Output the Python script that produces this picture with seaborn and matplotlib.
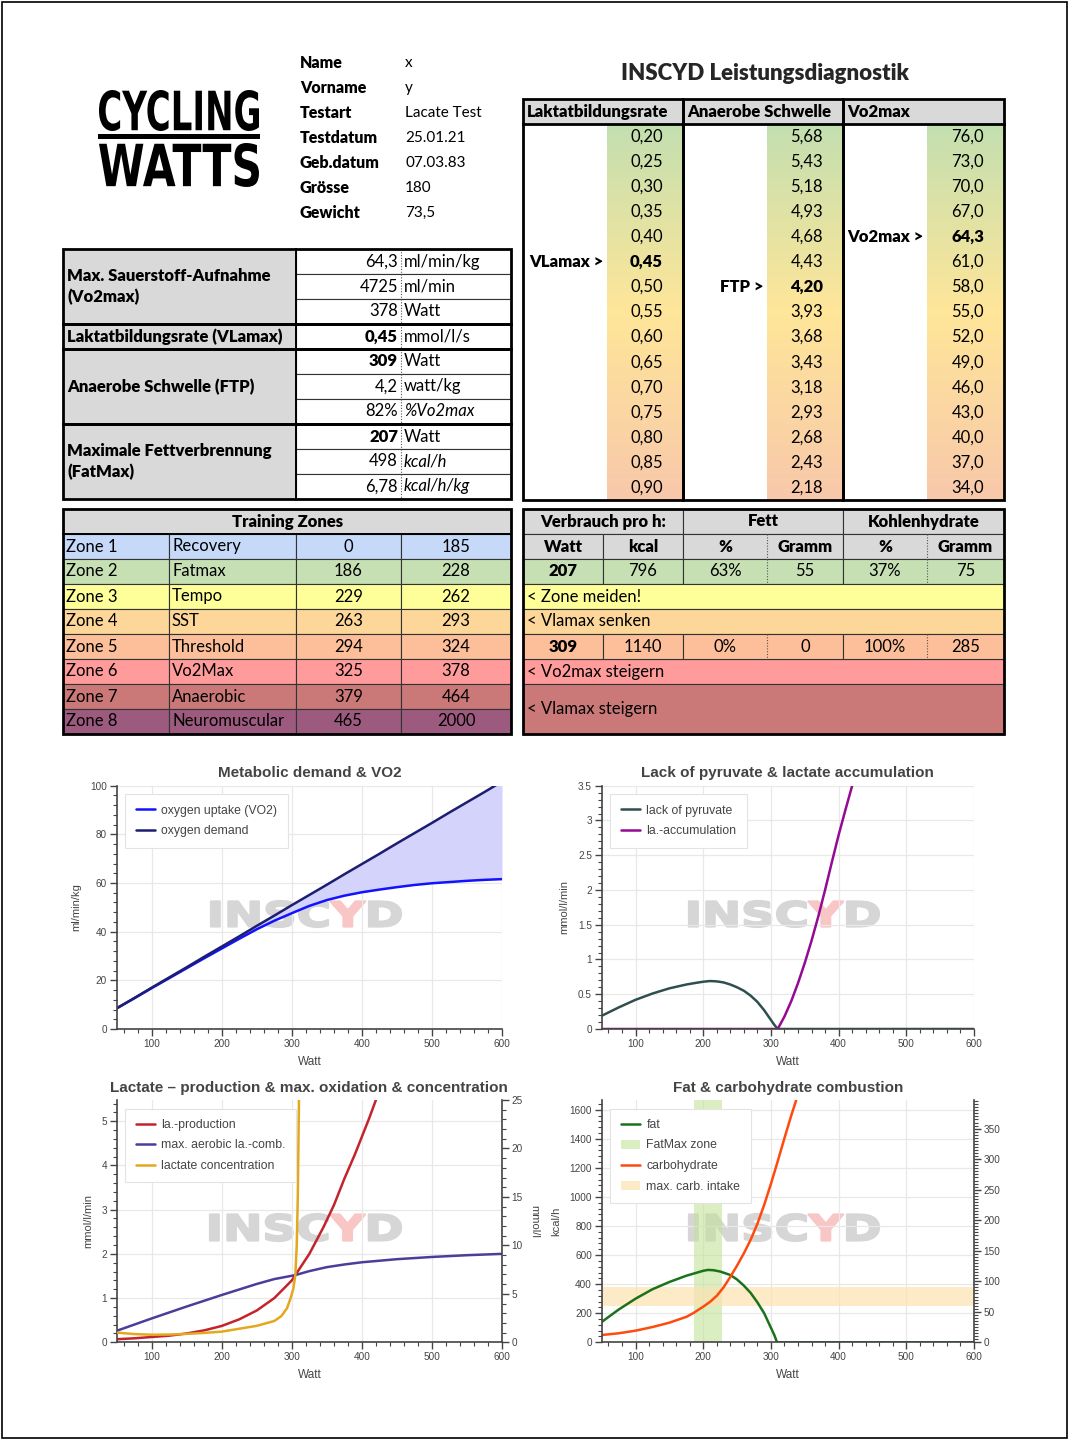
import numpy as np
import pandas as pd
import seaborn as sns
import matplotlib.pyplot as plt
from matplotlib.patches import Rectangle, PathPatch, Patch
from matplotlib.lines import Line2D
from matplotlib.textpath import TextPath, text_to_path
from matplotlib.font_manager import FontProperties
from matplotlib.transforms import Affine2D
from matplotlib.colors import LinearSegmentedColormap
from matplotlib.ticker import MultipleLocator, FuncFormatter

# ================= DATA =================
info_labels = ["Name", "Vorname", "Testart", "Testdatum", "Geb.datum", "Grösse", "Gewicht"]
info_values = ["x", "y", "Lacate Test", "25.01.21", "07.03.83", "180", "73,5"]

scale_headers = ["Laktatbildungsrate", "Anaerobe Schwelle", "Vo2max"]
vlamax_scale = [0.20, 0.25, 0.30, 0.35, 0.40, 0.45, 0.50, 0.55, 0.60, 0.65, 0.70, 0.75, 0.80, 0.85, 0.90]
ftp_scale = [5.68, 5.43, 5.18, 4.93, 4.68, 4.43, 4.20, 3.93, 3.68, 3.43, 3.18, 2.93, 2.68, 2.43, 2.18]
vo2_scale = [76.0, 73.0, 70.0, 67.0, 64.3, 61.0, 58.0, 55.0, 52.0, 49.0, 46.0, 43.0, 40.0, 37.0, 34.0]
scale_pointers = ["VLamax >", "FTP >", "Vo2max >"]
scale_marked = [5, 6, 4]

summary_groups = [("Max. Sauerstoff-Aufnahme\n(Vo2max)", 3), ("Laktatbildungsrate (VLamax)", 1),
                  ("Anaerobe Schwelle (FTP)", 3), ("Maximale Fettverbrennung\n(FatMax)", 3)]
summary_values = ["64,3", "4725", "378", "0,45", "309", "4,2", "82%", "207", "498", "6,78"]
summary_units = ["ml/min/kg", "ml/min", "Watt", "mmol/l/s", "Watt", "watt/kg", "%Vo2max", "Watt", "kcal/h", "kcal/h/kg"]
summary_bold = [False, False, False, True, True, False, False, True, False, False]
summary_italic = [False, False, False, False, False, False, True, False, True, True]

zone_names = ["Zone 1", "Zone 2", "Zone 3", "Zone 4", "Zone 5", "Zone 6", "Zone 7", "Zone 8"]
zone_types = ["Recovery", "Fatmax", "Tempo", "SST", "Threshold", "Vo2Max", "Anaerobic", "Neuromuscular"]
zone_low = [0, 186, 229, 263, 294, 325, 379, 465]
zone_high = [185, 228, 262, 293, 324, 378, 464, 2000]

cons_head = ["Verbrauch pro h:", "Fett", "Kohlenhydrate"]
cons_sub = ["Watt", "kcal", "%", "Gramm", "%", "Gramm"]
cons_fatmax = ["207", "796", "63%", "55", "37%", "75"]
cons_ftp = ["309", "1140", "0%", "0", "100%", "285"]
cons_notes = ["< Zone meiden!", "< Vlamax senken", "< Vo2max steigern", "< Vlamax steigern"]

# chart 1: metabolic demand & VO2
vo2_watt = [50, 75, 100, 125, 150, 175, 200, 225, 250, 275, 300, 325, 350, 375, 400,
            425, 450, 475, 500, 525, 550, 575, 600]
vo2_uptake = [8.5, 12.6, 16.8, 20.9, 25.0, 29.1, 33.1, 37.1, 41.0, 44.5, 47.6, 50.6, 53.0, 54.8, 56.2,
              57.3, 58.3, 59.2, 59.9, 60.4, 60.9, 61.3, 61.6]
vo2_demand = [8.5, 12.7, 17.0, 21.2, 25.4, 29.7, 33.9, 38.1, 42.4, 46.6, 50.9, 55.1, 59.3, 63.6, 67.8,
              72.0, 76.3, 80.5, 84.7, 89.0, 93.2, 97.4, 101.7]

# chart 2: lack of pyruvate & lactate accumulation
pyr_watt = [50, 75, 100, 125, 150, 175, 190, 200, 210, 220, 230, 240, 250, 260, 270, 280, 290, 300,
            305, 310, 400, 500, 600]
pyr_lack = [0.19, 0.31, 0.42, 0.51, 0.585, 0.64, 0.665, 0.68, 0.69, 0.685, 0.67, 0.64, 0.60, 0.55,
            0.48, 0.39, 0.27, 0.13, 0.06, 0.0, 0.0, 0.0, 0.0]
acc_watt = [50, 310, 320, 330, 340, 350, 360, 370, 380, 390, 400, 410, 420, 430]
acc_val = [0.0, 0.0, 0.18, 0.40, 0.66, 0.95, 1.27, 1.62, 2.00, 2.40, 2.79, 3.15, 3.50, 3.87]

# chart 3: lactate production, oxidation, concentration
prod_watt = [50, 75, 100, 125, 150, 175, 200, 225, 250, 275, 300, 305, 325, 345, 360, 375, 390, 400, 410, 420, 430]
prod_val = [0.07, 0.09, 0.12, 0.15, 0.20, 0.27, 0.37, 0.52, 0.72, 1.00, 1.40, 1.52, 2.00, 2.60, 3.10,
            3.70, 4.25, 4.65, 5.05, 5.48, 5.90]
comb_watt = [50, 100, 150, 200, 250, 275, 305, 325, 350, 375, 400, 450, 500, 550, 600]
comb_val = [0.26, 0.54, 0.81, 1.07, 1.32, 1.43, 1.52, 1.61, 1.70, 1.76, 1.81, 1.88, 1.93, 1.97, 2.00]
conc_watt = [50, 75, 100, 125, 150, 175, 200, 225, 250, 275, 285, 293, 298, 302, 305, 307, 308.5, 309.5, 310.5]
conc_val = [1.0, 0.85, 0.78, 0.80, 0.87, 0.97, 1.10, 1.40, 1.70, 2.20, 2.70, 3.50, 4.50, 5.50, 6.90,
            10.0, 15.0, 21.0, 27.0]

# chart 4: fat & carbohydrate combustion (kcal/h)
fat_watt = [50, 75, 100, 125, 150, 175, 200, 207, 215, 225, 240, 250, 260, 270, 280, 290, 300, 305, 309,
            400, 500, 600]
fat_kcal = [140, 225, 300, 365, 415, 458, 492, 498, 496, 487, 463, 432, 390, 340, 275, 200, 100, 50, 0,
            0, 0, 0]
carb_watt = [50, 75, 100, 125, 150, 175, 185, 200, 210, 220, 230, 240, 250, 260, 270, 280, 290, 300,
             310, 320, 330, 340, 350]
carb_kcal = [50, 62, 80, 105, 135, 175, 200, 245, 278, 320, 378, 450, 528, 612, 705, 815, 945, 1090,
             1245, 1405, 1560, 1705, 1850]
carb_intake_g = [60, 90]
kcal_per_g = 4.2

# ================= STYLE =================
sns.set_theme(style="white")
plt.rcParams["font.family"] = ["Liberation Sans", "DejaVu Sans"]
TFONT = ["Lato", "DejaVu Sans"]
BOLD = "heavy"
GRAY = "#d9d9d9"
zone_colors = ["#c6d9f9", "#c6e0b4", "#ffff99", "#fdd69a", "#fcbf9a", "#ff9b9b", "#cb7878", "#9c5b7e"]
CHART_TXT = "#444444"

fig = plt.figure(figsize=(10.7, 14.41), dpi=100)
ax0 = fig.add_axes([0, 0, 1, 1])
ax0.axis("off")


def put(x, y, s, ha="left", bold=False, italic=False, size=12, **kw):
    ax0.text(x, y, s, ha=ha, va="center", fontsize=size, family=TFONT,
             fontweight=BOLD if bold else "normal",
             fontstyle="italic" if italic else "normal", color="black", **kw)


def rect(x0, y0, x1, y1, fc="none", ec="#333333", lw=0.8, z=2):
    ax0.add_patch(Rectangle((x0, y0), x1 - x0, y1 - y0, fc=fc, ec=ec, lw=lw, zorder=z))


def line(xs, ys, lw=0.8, ls="-", color="#333333", z=4):
    ax0.plot(xs, ys, color=color, lw=lw, ls=ls, zorder=z, solid_capstyle="projecting")


def word_path(s, x0, y0, x1, y1, pieces, family="DejaVu Sans", stroke=0.0):
    # text fitted into a pixel box, pieces = [(text, color)]
    prop = FontProperties(family=family, weight="bold", size=10)
    paths, adv = [], 0.0
    for t, c in pieces:
        paths.append((TextPath((adv, 0), t, prop=prop), c))
        adv += text_to_path.get_text_width_height_descent(t, prop, ismath=False)[0]
    full = TextPath((0, 0), s, prop=prop).get_extents()
    ex0 = min(p.get_extents().x0 for p, _ in paths)
    ex1 = max(p.get_extents().x1 for p, _ in paths)
    sx = (x1 - x0) / (ex1 - ex0)
    sy = (y1 - y0) / full.height
    tr = Affine2D().translate(-ex0, -full.y0).scale(sx, -sy).translate(x0, y1)
    for p, c in paths:
        ax0.add_patch(PathPatch(tr.transform_path(p), fc=c, ec=c if stroke else "none",
                                lw=stroke, joinstyle="round", zorder=1))


# ---- page frame + logo ----
rect(2, 2, 1067, 1438, ec="black", lw=1.2)
word_path("CYCLING", 99, 90, 259, 131, [("CYCLING", "black")])
rect(98, 134, 260, 139, fc="black", ec="none")
word_path("WATTS", 99, 143, 259, 187, [("WATTS", "black")])

# ---- person info ----
for i, (lab, val) in enumerate(zip(info_labels, info_values)):
    put(300, 63 + 25 * i, lab, bold=True, size=11.5)
    put(405, 63 + 25 * i, val, size=11)

ax0.text(765, 73, "INSCYD Leistungsdiagnostik", ha="center", va="center", fontsize=16,
         fontweight=BOLD, family=TFONT)

# ---- scale table (top right) ----
col_x = [523, 683, 843, 1004]
grad_x = [607, 767, 927]
row_h = (500 - 124) / 15
grad = LinearSegmentedColormap.from_list("scale", ["#c3dfb0", "#ffe699", "#f8c8ab"])
scales = [[f"{v:.2f}".replace(".", ",") for v in vlamax_scale],
          [f"{v:.2f}".replace(".", ",") for v in ftp_scale],
          [f"{v:.1f}".replace(".", ",") for v in vo2_scale]]
for c in range(3):
    rect(col_x[c], 99, col_x[c + 1], 124, fc=GRAY, ec="black", lw=0)
    ax0.imshow(np.linspace(0, 1, 256)[:, None], cmap=grad, aspect="auto", interpolation="bilinear",
               extent=(grad_x[c], col_x[c + 1], 500, 124), zorder=1)
    put(col_x[c] + 4, 112, scale_headers[c], bold=True)
    for i, s in enumerate(scales[c]):
        yc = 124 + row_h * (i + 0.5)
        put(col_x[c + 1] - 20, yc, s, ha="right", bold=(i == scale_marked[c]))
    yc = 124 + row_h * (scale_marked[c] + 0.5)
    put(grad_x[c] - 4, yc, scale_pointers[c], ha="right", bold=True)
    rect(col_x[c], 99, col_x[c + 1], 500, ec="black", lw=2.0, z=5)
    line([col_x[c], col_x[c + 1]], [124, 124], lw=2.0, color="black")

# ---- summary table (left) ----
r = 0
for label, n in summary_groups:
    y0, y1 = 249 + 25 * r, 249 + 25 * (r + n)
    rect(63, y0, 296, y1, fc=GRAY, ec="none")
    put(67, (y0 + y1) / 2, label, bold=True, linespacing=1.3)
    for k in range(n):
        i = r + k
        yy = 249 + 25 * i
        rect(296, yy, 511, yy + 25, fc="white", ec="#333333", lw=0.8)
        put(398, yy + 12.5, summary_values[i], ha="right", bold=summary_bold[i])
        put(404, yy + 12.5, summary_units[i], italic=summary_italic[i])
    line([401, 401], [y0, y1], lw=0.8, ls=(0, (1, 1.5)), color="#555555", z=5)
    line([296, 296], [y0, y1], lw=1.4, color="black", z=5)
    rect(63, y0, 511, y1, ec="black", lw=2.0, z=6)
    r += n

# ---- training zones ----
tz_x = [63, 169, 296, 401, 511]
rect(63, 509, 511, 534, fc=GRAY, ec="#333333")
put(288, 521.5, "Training Zones", ha="center", bold=True)
for i in range(8):
    y0 = 534 + 25 * i
    for j in range(4):
        rect(tz_x[j], y0, tz_x[j + 1], y0 + 25, fc=zone_colors[i], ec="#333333", lw=0.8)
    put(66, y0 + 12.5, zone_names[i])
    put(172, y0 + 12.5, zone_types[i])
    put(348.5, y0 + 12.5, str(zone_low[i]), ha="center")
    put(456, y0 + 12.5, str(zone_high[i]), ha="center")
line([63, 511], [534, 534], lw=1.4, color="black")
rect(63, 509, 511, 734, ec="black", lw=2.0, z=6)

# ---- consumption table ----
cx = [523, 603, 683, 767, 843, 927, 1004]
for k, (a, b) in enumerate([(523, 683), (683, 843), (843, 1004)]):
    rect(a, 509, b, 534, fc=GRAY)
    put((a + b) / 2, 521.5, cons_head[k], ha="center", bold=True)


def value_row(y0, vals, fc, head=False):
    for a, b in [(523, 603), (603, 683), (683, 843), (843, 1004)]:
        rect(a, y0, b, y0 + 25, fc=fc)
    for j in range(6):
        put((cx[j] + cx[j + 1]) / 2, y0 + 12.5, vals[j], ha="center", bold=head or j == 0)
    for xd in (767, 927):
        line([xd, xd], [y0, y0 + 25], lw=0.8, ls=(0, (1, 1.5)), color="#555555", z=5)


value_row(534, cons_sub, GRAY, head=True)
value_row(559, cons_fatmax, zone_colors[1])
note_rows = [(584, 609, zone_colors[2]), (609, 634, zone_colors[3]), (659, 684, zone_colors[5]),
             (684, 734, zone_colors[6])]
for (a, b, fc), note in zip(note_rows, cons_notes):
    rect(523, a, 1004, b, fc=fc)
    put(527, (a + b) / 2, note)
value_row(634, cons_ftp, zone_colors[4])
rect(523, 509, 1004, 734, ec="black", lw=2.0, z=6)

# ---- watermarks behind charts ----
for (a, b, c, d) in [(211, 901, 401, 927), (689, 901, 879, 927), (210, 1214, 401, 1241), (689, 1214, 879, 1241)]:
    word_path("INSCYD", a, b, c, d, [("INSC", "#d6d6d6"), ("Y", "#f9c6c6"), ("D", "#d6d6d6")], stroke=1.6)

ax0.set_xlim(0, 1070)
ax0.set_ylim(1441, 0)

# ================= CHARTS =================
fmt = FuncFormatter(lambda v, p: f"{v:g}")
leg_kw = dict(loc="upper left", fontsize=8.8, frameon=True, fancybox=False, edgecolor="#e3e3e3",
              framealpha=1, borderpad=0.85, labelspacing=0.7, handlelength=1.6, handletextpad=0.5,
              borderaxespad=0.7, labelcolor=CHART_TXT)


def chart(rect_px, title, ylabel, ymax, ymaj, ymin_step):
    x0, y0, x1, y1 = rect_px
    ax = fig.add_axes([x0 / 1070, 1 - y1 / 1441, (x1 - x0) / 1070, (y1 - y0) / 1441])
    ax.set_facecolor("none")
    ax.set_xlim(50, 600)
    ax.set_ylim(0, ymax)
    ax.xaxis.set_major_locator(MultipleLocator(100))
    ax.xaxis.set_minor_locator(MultipleLocator(20))
    ax.yaxis.set_major_locator(MultipleLocator(ymaj))
    ax.yaxis.set_minor_locator(MultipleLocator(ymin_step))
    ax.yaxis.set_major_formatter(fmt)
    ax.grid(True, which="major", color="#e8e8e8", lw=0.9)
    ax.set_axisbelow(True)
    ax.tick_params(which="both", bottom=True, left=True, top=False, right=False, direction="out",
                   color=CHART_TXT)
    ax.tick_params(which="major", length=5, width=1, labelsize=7.2, labelcolor=CHART_TXT, pad=2)
    ax.tick_params(which="minor", length=3, width=0.8)
    for s in ("top", "right"):
        ax.spines[s].set_visible(False)
    for s in ("left", "bottom"):
        ax.spines[s].set_color(CHART_TXT)
        ax.spines[s].set_linewidth(1.2)
    ax.set_title(title, fontsize=11, fontweight="bold", color=CHART_TXT, pad=6)
    ax.set_xlabel("Watt", fontsize=8.5, color=CHART_TXT, labelpad=5)
    ax.set_ylabel(ylabel, fontsize=8, color=CHART_TXT, labelpad=6)
    return ax


def right_axis(ax, ymax, ymaj, ymin_step, ylabel=""):
    axr = ax.twinx()
    axr.set_ylim(0, ymax)
    axr.yaxis.set_major_locator(MultipleLocator(ymaj))
    axr.yaxis.set_minor_locator(MultipleLocator(ymin_step))
    axr.yaxis.set_major_formatter(fmt)
    axr.grid(False)
    axr.tick_params(axis="y", which="both", right=True, left=False, direction="out", color=CHART_TXT)
    axr.tick_params(axis="y", which="major", length=5, width=1, labelsize=7.2, labelcolor=CHART_TXT, pad=2)
    axr.tick_params(axis="y", which="minor", length=3, width=0.8)
    for s in ("top", "left", "bottom"):
        axr.spines[s].set_visible(False)
    axr.spines["right"].set_color(CHART_TXT)
    axr.spines["right"].set_linewidth(1.2)
    if ylabel:
        axr.set_ylabel(ylabel, fontsize=8, color=CHART_TXT, rotation=270, labelpad=12)
    return axr


# chart 1
ax1 = chart((116.7, 785.7, 502, 1029), "Metabolic demand & VO2", "ml/min/kg", 100, 20, 4)
ax1.fill_between(vo2_watt, vo2_uptake, vo2_demand, color="#d3d3fb", lw=0, zorder=1)
sns.lineplot(x=vo2_watt, y=vo2_uptake, ax=ax1, color="#1212ff", lw=1.8, label="oxygen uptake (VO2)")
sns.lineplot(x=vo2_watt, y=vo2_demand, ax=ax1, color="#1d1d72", lw=1.8, label="oxygen demand")
ax1.legend(**leg_kw).get_frame().set_linewidth(0.8)

# chart 2
ax2 = chart((601.7, 785.7, 974, 1029), "Lack of pyruvate & lactate accumulation", "mmol/l/min", 3.5, 0.5, 0.1)
sns.lineplot(x=pyr_watt, y=pyr_lack, ax=ax2, color="#2f4f4f", lw=1.8, label="lack of pyruvate")
sns.lineplot(x=acc_watt, y=acc_val, ax=ax2, color="#930a93", lw=1.8, label="la.-accumulation")
ax2.legend(**leg_kw).get_frame().set_linewidth(0.8)

# chart 3
ax3 = chart((116.7, 1100, 502, 1342.3), "Lactate \u2013 production & max. oxidation & concentration",
            "mmol/l/min", 5.48, 1, 0.2)
ax3r = right_axis(ax3, 25, 5, 1, "mmol/l")
sns.lineplot(x=prod_watt, y=prod_val, ax=ax3, color="#c4232b", lw=1.8, label="la.-production")
sns.lineplot(x=comb_watt, y=comb_val, ax=ax3, color="#4b3d99", lw=1.8, label="max. aerobic la.-comb.")
sns.lineplot(x=conc_watt, y=conc_val, ax=ax3r, color="#e3a81e", lw=1.8, label="lactate concentration")
h1, l1 = ax3.get_legend_handles_labels()
h2, l2 = ax3r.get_legend_handles_labels()
ax3.get_legend().remove()
ax3r.legend(h1 + h2, l1 + l2, **leg_kw).get_frame().set_linewidth(0.8)

# chart 4
ax4 = chart((601.7, 1100, 974, 1342.3), "Fat & carbohydrate combustion", "kcal/h", 1667, 200, 40)
ax4r = right_axis(ax4, 1667 / kcal_per_g, 50, 5)
ax4.axvspan(zone_low[1], zone_high[1], color="#c2e39a", alpha=0.6, lw=0, zorder=1)
ax4.axhspan(carb_intake_g[0] * kcal_per_g, carb_intake_g[1] * kcal_per_g, color="#fde2b0", alpha=0.7,
            lw=0, zorder=1)
sns.lineplot(x=fat_watt, y=fat_kcal, ax=ax4, color="#1a721a", lw=1.8)
sns.lineplot(x=carb_watt, y=carb_kcal, ax=ax4, color="#ff4a0f", lw=1.8)
handles = [Line2D([], [], color="#1a721a", lw=1.8), Patch(fc="#c2e39a", alpha=0.6, lw=0),
           Line2D([], [], color="#ff4a0f", lw=1.8), Patch(fc="#fde2b0", alpha=0.7, lw=0)]
ax4r.legend(handles, ["fat", "FatMax zone", "carbohydrate", "max. carb. intake"],
            **leg_kw).get_frame().set_linewidth(0.8)

fig.savefig("out.png", dpi=100)
